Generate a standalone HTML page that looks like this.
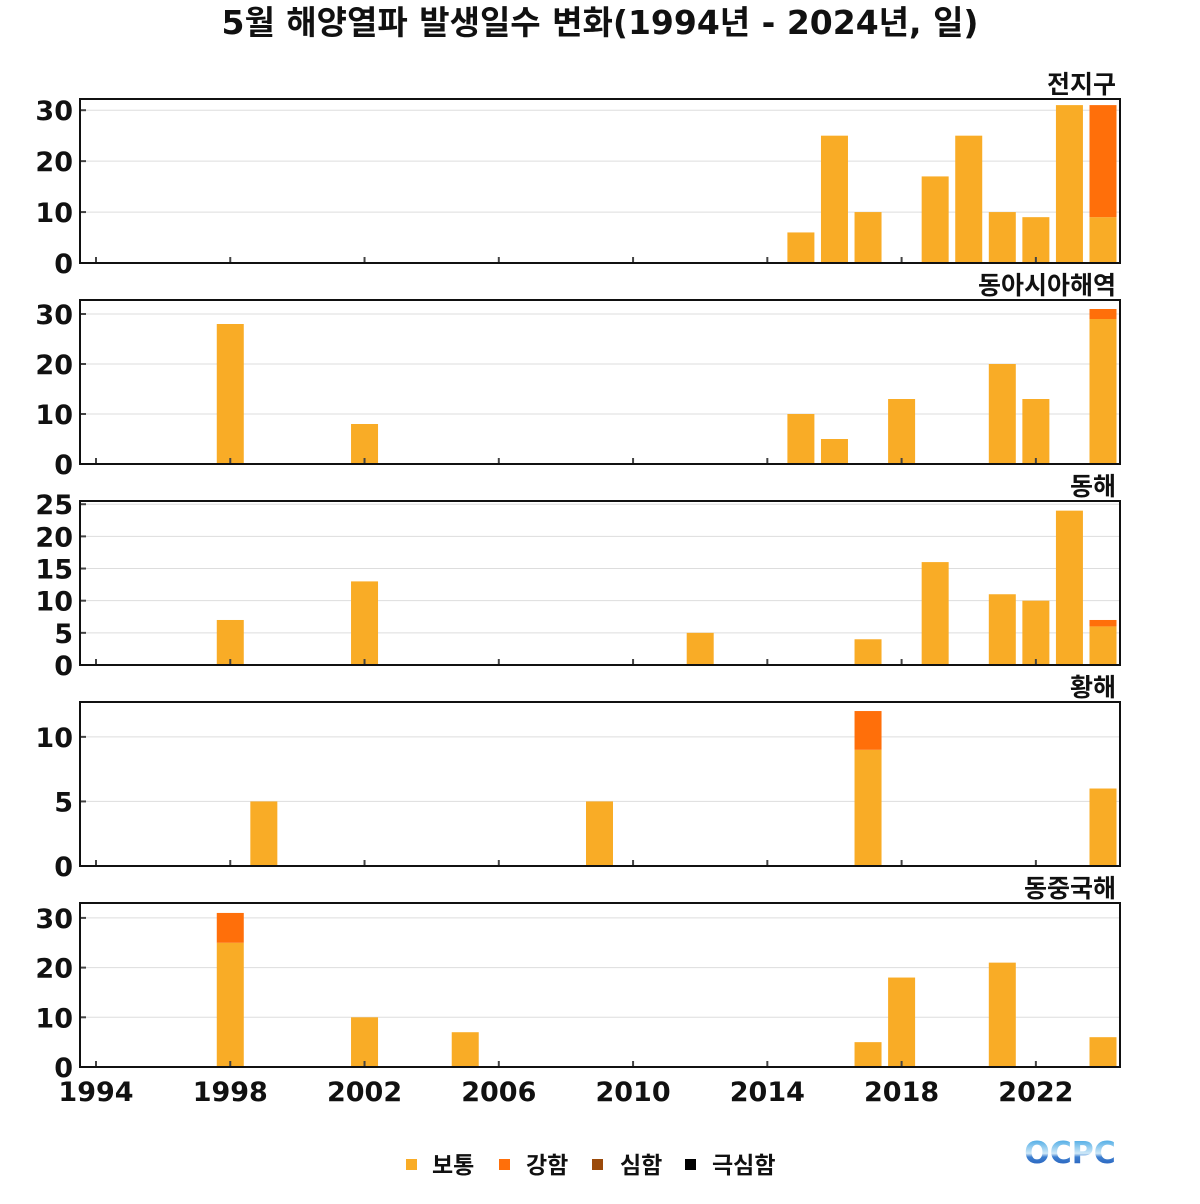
<!DOCTYPE html>
<html><head><meta charset="utf-8">
<style>
body{margin:0;background:#fff;width:1200px;height:1200px;overflow:hidden;font-family:"DejaVu Sans","Noto Sans CJK KR",sans-serif;}
svg text{font-family:"DejaVu Sans","Noto Sans CJK KR",sans-serif;font-weight:bold;}
</style></head>
<body>
<svg id="chart" width="1200" height="1200" xmlns="http://www.w3.org/2000/svg">
<text x="600" y="34" font-size="33" text-anchor="middle" fill="#111">5월 해양열파 발생일수 변화(1994년 - 2024년, 일)</text>
<g id="panels"></g>
<g>
<rect x="406" y="1159" width="11" height="11" fill="#F9AC26"/>
<text x="432" y="1173" font-size="23" fill="#111">보통</text>
<rect x="499" y="1159" width="11" height="11" fill="#FF6F0A"/>
<text x="526" y="1173" font-size="23" fill="#111">강함</text>
<rect x="592" y="1159" width="11" height="11" fill="#9B4A0A"/>
<text x="620" y="1173" font-size="23" fill="#111">심함</text>
<rect x="685" y="1159" width="11" height="11" fill="#000"/>
<text x="712" y="1173" font-size="23" fill="#111">극심함</text>
</g>
<defs><linearGradient id="lg" x1="0" y1="0" x2="0" y2="1"><stop offset="0" stop-color="#2a9be0"/><stop offset="0.5" stop-color="#cfe8f8"/><stop offset="0.6" stop-color="#3d7fd0"/><stop offset="1" stop-color="#1a4fb0"/></linearGradient></defs>
<text x="1070" y="1163" font-size="30" text-anchor="middle" fill="url(#lg)">OCPC</text>
</svg>
<script>
const years = [];
for (let y = 1994; y <= 2024; y++) years.push(y);
const xTickLabels = [1994, 1998, 2002, 2006, 2010, 2014, 2018, 2022];
const panelTitles = ["전지구", "동아시아해역", "동해", "황해", "동중국해"];
const panelMax = [32.2, 32.8, 25.5, 12.7, 33];
const panelTicks = [[0,10,20,30],[0,10,20,30],[0,5,10,15,20,25],[0,5,10],[0,10,20,30]];
const globalYears = [2015,2016,2017,2019,2020,2021,2022,2023,2024];
const globalNormal = [6,25,10,17,25,10,9,31,9];
const globalStrong = [0,0,0,0,0,0,0,0,22];
const eastAsiaYears = [1998,2002,2015,2016,2018,2021,2022,2024];
const eastAsiaNormal = [28,8,10,5,13,20,13,29];
const eastAsiaStrong = [0,0,0,0,0,0,0,2];
const eastSeaYears = [1998,2002,2012,2017,2019,2021,2022,2023,2024];
const eastSeaNormal = [7,13,5,4,16,11,10,24,6];
const eastSeaStrong = [0,0,0,0,0,0,0,0,1];
const yellowSeaYears = [1999,2009,2017,2024];
const yellowSeaNormal = [5,5,9,6];
const yellowSeaStrong = [0,0,3,0];
const ecsYears = [1998,2002,2005,2017,2018,2021,2024];
const ecsNormal = [25,10,7,5,18,21,6];
const ecsStrong = [6,0,0,0,0,0,0];
const seriesYears = [globalYears, eastAsiaYears, eastSeaYears, yellowSeaYears, ecsYears];
const seriesNormal = [globalNormal, eastAsiaNormal, eastSeaNormal, yellowSeaNormal, ecsNormal];
const seriesStrong = [globalStrong, eastAsiaStrong, eastSeaStrong, yellowSeaStrong, ecsStrong];

const NS = "http://www.w3.org/2000/svg";
const g = document.getElementById("panels");
const L = 80, R = 1120, H = 164;
function xScale(yr){ return 96 + (yr - 1994) * (1103 - 96) / 30; }
function mk(tag, attrs){ const e = document.createElementNS(NS, tag); for (const k in attrs) e.setAttribute(k, attrs[k]); return e; }

for (let p = 0; p < 5; p++) {
  const top = 99 + p * 201, bot = top + H;
  const yScale = v => bot - v * (bot - top) / panelMax[p];
  const pg = mk("g", {});
  
  
  g.appendChild(pg);
  const t = mk("text", {x: 1116, y: top - 6, "font-size": 25, "text-anchor": "end", fill: "#111"});
  t.textContent = panelTitles[p];
  
  
  pg.appendChild(t);
  panelTicks[p].forEach(v => {
    const y = yScale(v);
    if (v > 0) {
      const gl = mk("line", {x1: L, x2: R, y1: y, y2: y, stroke: "#ddd", "stroke-width": 1});
      
      
      pg.appendChild(gl);
    }
    const tk = mk("line", {x1: L, x2: L + 6, y1: y, y2: y, stroke: "#444", "stroke-width": 2});
    
    
    pg.appendChild(tk);
    const tl = mk("text", {x: 73, y: y + 10, "font-size": 27, "text-anchor": "end", fill: "#111"});
    tl.textContent = v;
    
    
    pg.appendChild(tl);
  });
  const yrs = seriesYears[p], nv = seriesNormal[p], sv = seriesStrong[p];
  for (let i = 0; i < yrs.length; i++) {
    const cx = xScale(yrs[i]);
    const yN = yScale(nv[i]);
    const b = mk("rect", {x: cx - 13.5, y: yN, width: 27, height: bot - yN, fill: "#F9AC26"});
    
    
    pg.appendChild(b);
    if (sv[i] > 0) {
      const yS = yScale(nv[i] + sv[i]);
      const s = mk("rect", {x: cx - 13.5, y: yS, width: 27, height: yN - yS, fill: "#FF6F0A"});
      
      
      pg.appendChild(s);
    }
  }
  xTickLabels.forEach(yr => {
    const x = xScale(yr);
    const tk = mk("line", {x1: x, x2: x, y1: bot, y2: bot - 6, stroke: "#444", "stroke-width": 2});
    
    
    pg.appendChild(tk);
    if (p === 4) {
      const xl = mk("text", {x: x, y: 1101, "font-size": 27, "text-anchor": "middle", fill: "#111"});
      xl.textContent = yr;
      
      
      pg.appendChild(xl);
    }
  });
  const frame = mk("rect", {x: L, y: top, width: R - L, height: H, fill: "none", stroke: "#111", "stroke-width": 2});
  
  
  pg.appendChild(frame);
}
</script>
</body></html>
